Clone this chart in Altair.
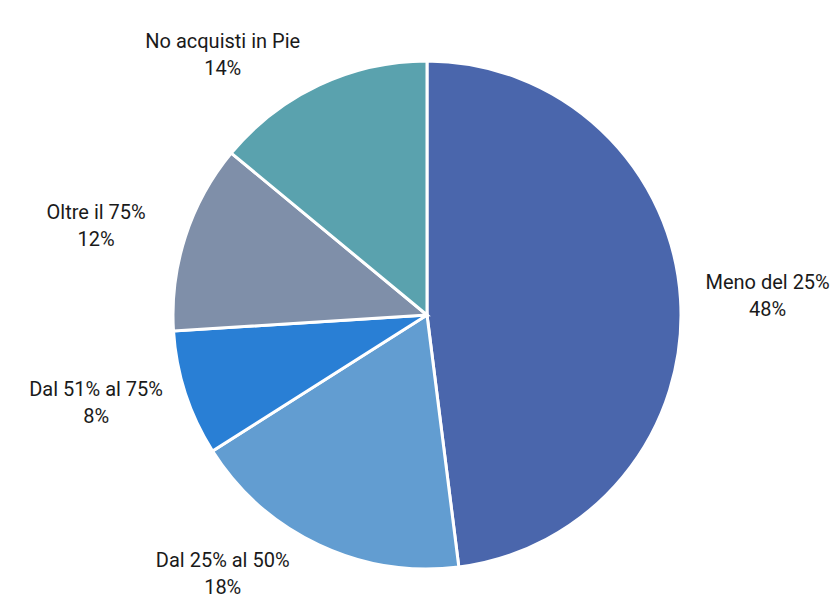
import altair as alt
import pandas as pd

categories = ["Meno del 25%", "Dal 25% al 50%", "Dal 51% al 75%", "Oltre il 75%", "No acquisti in Pie"]
values = [48, 18, 8, 12, 14]
colors = ["#4A66AC", "#629DD1", "#297FD5", "#7F8FA9", "#5AA2AE"]

df = pd.DataFrame({
    "categoria": categories,
    "valore": values,
    "ordine": list(range(len(categories))),
})

CX, CY, R = 419, 307, 254
RX, RY = 341, 287
LH = 27

base = alt.Chart(df)

pie = base.mark_arc(stroke="white", strokeWidth=3, radius=R).encode(
    theta=alt.Theta("valore:Q", stack=True),
    order=alt.Order("ordine:Q"),
    color=alt.Color("categoria:N", scale=alt.Scale(domain=categories, range=colors), legend=None),
    x=alt.value(CX),
    y=alt.value(CY),
)

labels = base.transform_window(
    cum="sum(valore)", sort=[alt.SortField("ordine")], frame=[None, 0]
).transform_joinaggregate(
    tot="sum(valore)"
).transform_calculate(
    ang="(datum.cum - datum.valore/2) / datum.tot * 2 * PI",
    lx=f"{CX} + {RX} * (sin(datum.ang) < 0 ? -1 : 1) * pow(abs(sin(datum.ang)), 0.6)",
    ly=f"{CY} - {RY} * cos(datum.ang) - {LH}/2",
    label="datum.categoria + '\\n' + datum.valore + '%'",
).mark_text(
    lineBreak="\n", font="Roboto", fontSize=20, lineHeight=LH,
    color="#1a1a1a", align="center", baseline="middle"
).encode(
    x=alt.X("lx:Q", scale=None, axis=None),
    y=alt.Y("ly:Q", scale=None, axis=None),
    text="label:N",
)

chart = alt.layer(pie, labels).properties(
    width=824, height=593, padding=0, autosize=alt.AutoSizeParams(type="none")
).configure_view(stroke=None)

chart.save("out.html", embed_options={"renderer": "svg", "actions": False})
